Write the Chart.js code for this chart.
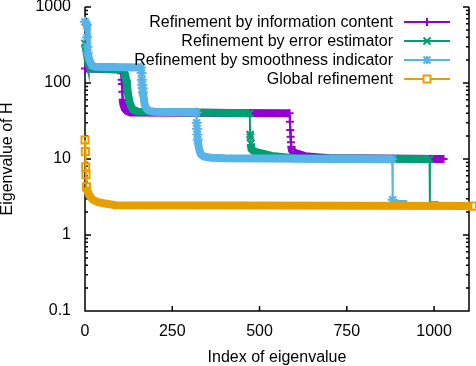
<!DOCTYPE html>
<html>
<head>
<meta charset="utf-8">
<script src="https://cdn.jsdelivr.net/npm/chart.js@4.4.1/dist/chart.umd.min.js"></script>
<style>
  body { margin: 0; background: #fff; }
  canvas { display: block; }
</style>
</head>
<body>
<canvas id="eig" width="476" height="366"></canvas>
<script>
// eigenvalues of H as (index, value) along each curve
const infoIdx = [0, 103, 104, 105, 106, 107, 108, 110, 114, 120, 130, 586, 587, 588, 589, 590, 591, 593, 598, 610, 630, 700, 1027];
const infoVal = [155, 150, 134, 110, 97, 77, 60, 52, 46, 43, 41, 40, 31, 24, 19.6, 16.6, 14.5, 13, 12.2, 11.7, 10.9, 10.2, 10];

const errIdx = [0, 2, 4, 6, 8, 11, 15, 20, 113, 114, 116, 118, 120, 122, 124, 127, 131, 137, 150, 472, 473, 474, 475, 477, 485, 500, 535, 600, 987, 988, 1013];
const errVal = [330, 300, 260, 230, 200, 175, 160, 155, 150, 134, 120, 110, 95, 80, 68, 58, 50, 45, 42, 40, 21, 19.5, 16, 13.5, 12.5, 12, 11, 10.2, 10, 2.7, 2.7];

const smoothIdx = [0, 3, 5, 6, 7, 8, 10, 13, 16, 20, 30, 161, 162, 163, 164, 165, 166, 168, 170, 173, 178, 185, 200, 319, 320, 321, 322, 323, 325, 328, 332, 340, 360, 400, 880, 881, 882, 923];
const smoothVal = [640, 620, 580, 400, 300, 250, 220, 200, 185, 170, 163, 160, 135, 110, 95, 85, 75, 65, 55, 49, 45, 43, 42, 41, 30, 25, 21, 18, 15, 13, 11.5, 10.8, 10.4, 10.2, 9.9, 2.9, 2.8, 2.8];

const globalIdx = [0, 1, 2, 3, 4, 6, 10, 15, 23, 37, 57, 88, 1110];
const globalVal = [17.8, 12.5, 7.9, 6.2, 4.3, 3.9, 3.5, 3.2, 2.9, 2.7, 2.6, 2.47, 2.4];

const seriesNames = [
  'Refinement by information content',
  'Refinement by error estimator',
  'Refinement by smoothness indicator',
  'Global refinement'
];
const xTicks = [0, 250, 500, 750, 1000];
const yTicks = [0.1, 1, 10, 100, 1000];

const FONT = '"Liberation Sans", Arial, sans-serif';
const colors = ['#9400d3', '#009e73', '#56b4e9', '#e69f00'];
const markers = ['cross', 'crossRot', 'star', 'rect'];
const markerR = [4, 5, 5, 5];

function curve(idx, val) {
  return idx.map((x, i) => ({ x: x, y: val[i] }));
}

// dense runs of points show up as a thick band in the original, jumps as thin lines
function segWidth(ctx) {
  const ds = ctx.chart.data.datasets[ctx.datasetIndex];
  if (ds.thinTail && ctx.p1DataIndex === ds.data.length - 1) return 2;
  return ctx.p1.parsed.x - ctx.p0.parsed.x >= 2 ? 8 : 2;
}

function markerSize(r) {
  return ctx => {
    const d = ctx.dataset.data, i = ctx.dataIndex;
    if (ctx.dataset.thinTail && i >= d.length - 2) return 0;
    const inBand = i > 0 && i < d.length - 1 && d[i].x - d[i - 1].x >= 2 && d[i + 1].x - d[i].x >= 2;
    return inBand ? 0 : r;
  };
}

function makeSet(i, data, thinTail) {
  return {
    label: seriesNames[i],
    data: data,
    borderColor: colors[i],
    backgroundColor: colors[i],
    pointBorderColor: colors[i],
    pointBackgroundColor: 'rgba(0,0,0,0)',
    pointStyle: markers[i],
    pointRadius: markerSize(markerR[i]),
    pointBorderWidth: 2,
    borderWidth: 2,
    segment: { borderWidth: segWidth },
    thinTail: thinTail,
    order: 4 - i,
    clip: false
  };
}

function drawMarker(ctx, style, x, y, color) {
  ctx.strokeStyle = color;
  ctx.lineWidth = 2;
  ctx.beginPath();
  if (style === 'cross' || style === 'star') {
    ctx.moveTo(x - 4, y); ctx.lineTo(x + 4, y);
    ctx.moveTo(x, y - 4); ctx.lineTo(x, y + 4);
  }
  if (style === 'crossRot' || style === 'star') {
    ctx.moveTo(x - 3.5, y - 3.5); ctx.lineTo(x + 3.5, y + 3.5);
    ctx.moveTo(x - 3.5, y + 3.5); ctx.lineTo(x + 3.5, y - 3.5);
  }
  ctx.stroke();
  if (style === 'rect') {
    ctx.fillStyle = '#fff';
    ctx.fillRect(x - 3.5, y - 3.5, 7, 7);
    ctx.strokeRect(x - 3.5, y - 3.5, 7, 7);
  }
}

const framePlugin = {
  id: 'frame',
  beforeDatasetsDraw(chart) {
    const { ctx, chartArea: a, scales: { x, y } } = chart;
    ctx.save();
    ctx.strokeStyle = '#000';
    ctx.lineWidth = 1.5;
    ctx.beginPath();
    ctx.moveTo(a.left, a.top); ctx.lineTo(a.left, a.bottom);
    ctx.lineTo(a.right, a.bottom); ctx.lineTo(a.right, a.top);
    for (let d = -1; d <= 3; d++) {
      for (let m = 1; m <= 9; m++) {
        const v = m * Math.pow(10, d);
        if (v > 1000.001) break;
        const py = y.getPixelForValue(v);
        const len = m === 1 ? 6 : 3;
        ctx.moveTo(a.left, py); ctx.lineTo(a.left + len, py);
        ctx.moveTo(a.right, py); ctx.lineTo(a.right - len, py);
      }
    }
    xTicks.forEach(v => {
      const px = x.getPixelForValue(v);
      ctx.moveTo(px, a.bottom); ctx.lineTo(px, a.bottom - 5);
    });
    ctx.stroke();
    ctx.restore();
  }
};

const keyPlugin = {
  id: 'key',
  afterDatasetsDraw(chart) {
    const { ctx, chartArea: a } = chart;
    const textRight = a.right - 76, lineL = a.right - 65, lineR = a.right - 19;
    ctx.save();
    ctx.font = '16px ' + FONT;
    ctx.textAlign = 'right';
    ctx.textBaseline = 'middle';
    chart.data.datasets.forEach((ds, i) => {
      const yy = a.top + 15 + i * 19;
      ctx.fillStyle = '#000';
      ctx.fillText(ds.label, textRight, yy + 1);
      ctx.strokeStyle = ds.borderColor;
      ctx.lineWidth = 2;
      ctx.beginPath(); ctx.moveTo(lineL, yy); ctx.lineTo(lineR, yy); ctx.stroke();
      drawMarker(ctx, ds.pointStyle, (lineL + lineR) / 2, yy, ds.borderColor);
    });
    ctx.restore();
  }
};

const tickFont = { family: FONT, size: 16 };

new Chart(document.getElementById('eig'), {
  type: 'line',
  data: {
    datasets: [
      makeSet(0, curve(infoIdx, infoVal), false),
      makeSet(1, curve(errIdx, errVal), true),
      makeSet(2, curve(smoothIdx, smoothVal), true),
      makeSet(3, curve(globalIdx, globalVal), false)
    ]
  },
  options: {
    responsive: false,
    animation: false,
    events: [],
    layout: { padding: { top: 7, right: 4, left: 0, bottom: 0 } },
    elements: {
      line: { tension: 0, borderCapStyle: 'butt', borderJoinStyle: 'miter' }
    },
    plugins: { legend: { display: false }, tooltip: { enabled: false } },
    scales: {
      x: {
        type: 'linear',
        min: 0,
        max: 1100,
        afterBuildTicks: s => { s.ticks = xTicks.map(v => ({ value: v })); },
        afterFit: s => { s.height = 55; s.paddingLeft = 0; s.paddingRight = 0; },
        grid: { display: false },
        border: { display: false },
        ticks: { color: '#000', font: tickFont, padding: 3, maxRotation: 0, autoSkip: false, callback: v => String(v) },
        title: { display: true, text: 'Index of eigenvalue', color: '#000', font: { family: FONT, size: 16, lineHeight: 1 }, padding: { top: 0, bottom: 0 } }
      },
      y: {
        type: 'logarithmic',
        min: 0.1,
        max: 1000,
        afterBuildTicks: s => { s.ticks = yTicks.map(v => ({ value: v })); },
        afterFit: s => { s.width = 85; s.paddingTop = 0; s.paddingBottom = 0; },
        grid: { display: false },
        border: { display: false },
        ticks: { color: '#000', font: tickFont, padding: 6, autoSkip: false, callback: v => String(v) },
        title: { display: true, text: 'Eigenvalue of H', color: '#000', font: { family: FONT, size: 16, lineHeight: 1 }, padding: { top: 0, bottom: 0 } }
      }
    }
  },
  plugins: [framePlugin, keyPlugin]
});
</script>
</body>
</html>
